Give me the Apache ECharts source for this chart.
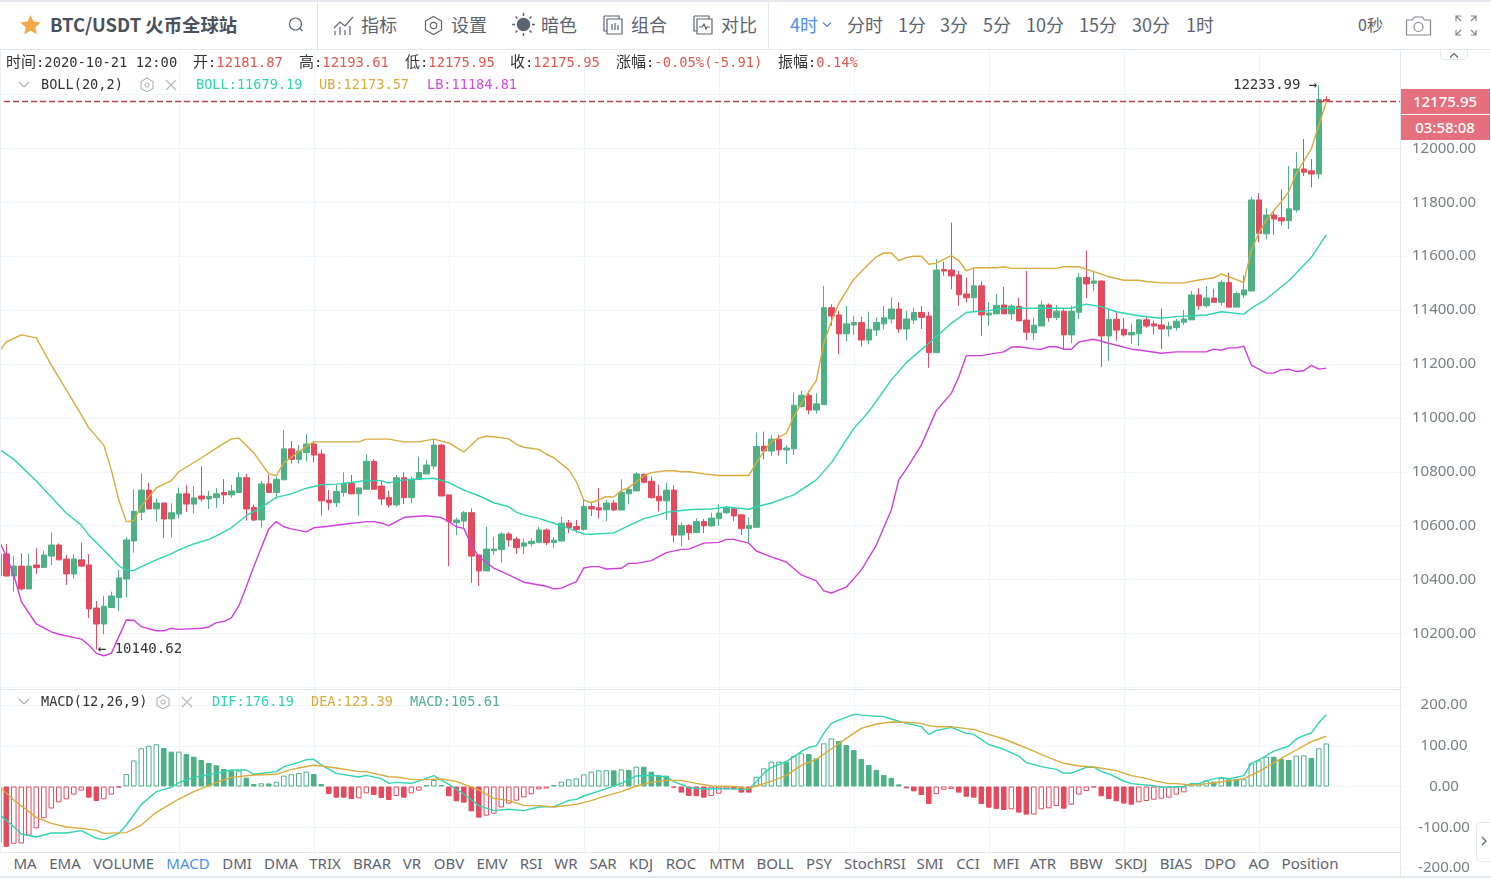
<!DOCTYPE html>
<html lang="en">
<head>
<meta charset="UTF-8">
<title>BTC/USDT</title>
<script src="https://cdn.jsdelivr.net/npm/echarts@6/dist/echarts.min.js"></script>
<style>
    html, body { margin: 0; padding: 0; background: #fff; overflow: hidden; }
    #wrap { position: relative; width: 1491px; height: 878px; overflow: hidden; }
    #main { position: absolute; left: 0; top: 0; width: 1491px; height: 878px; }
    .t { position: absolute; white-space: nowrap; transform: translateY(-50%); line-height: 1; }
    .c { transform: translate(-50%, -50%); }
    .bar { font: 18px "Noto Sans CJK SC", sans-serif; color: #5c6370; }
    .mono { font: 13.6px "DejaVu Sans Mono", "Noto Sans CJK SC", monospace; color: #333; }
    .info { font-size: 13.8px; }
    .mono i { font: 15px "Noto Sans CJK SC", sans-serif; color: #333; }
    .red { color: #e2584e; }
    .tab { font: 15px "Noto Sans", sans-serif; color: #5c6370; }
    .box { position: absolute; left: 1400px; width: 90px; height: 25px; background: #e66f7d; color: #fff;
           font: 500 15px/25px "Noto Sans", sans-serif; text-align: center; }
    .line { position: absolute; background: #e4e7eb; }
    svg { position: absolute; fill: none; stroke: #5c6370; stroke-width: 1.2; }
</style>
</head>
<body>
<div id="wrap">
<div id="main"></div>

<!-- header -->
<div style="position:absolute;left:0;top:0;width:1491px;height:50px;background:#fff"></div>
<div class="line" style="left:0;top:0;width:1491px;height:2px"></div>
<div class="line" style="left:0;top:49px;width:1491px;height:1px"></div>
<div class="line" style="left:317px;top:0;width:1px;height:49px"></div>
<div class="line" style="left:768px;top:0;width:1px;height:49px"></div>
<svg style="left:20px;top:15px;fill:#f2a94a;stroke:none" width="21" height="20" viewBox="0 0 21 20"><path d="M10.5 0l3 6.6 7.2.8-5.4 4.8 1.5 7.1-6.3-3.6-6.3 3.6 1.5-7.1L.3 7.4l7.2-.8z"/></svg>
<div class="t bar" style="left:50px;top:24px;font-weight:700;font-size:18.4px;color:#4a505c">BTC/USDT 火币全球站</div>
<svg style="left:287px;top:16px" width="18" height="18"><circle cx="8.5" cy="8" r="6"/><path d="M13 12.5l2.5 2.5"/></svg>
<svg style="left:333px;top:15px" width="22" height="21"><path d="M1 13l6-6 5 4 8-9M2 20v-4M7 20v-8M12 20v-5M17 20v-9"/></svg>
<div class="t bar" style="left:361px;top:24px">指标</div>
<svg style="left:423px;top:15px" width="21" height="21"><path d="M10.5 1.5l8 4.5v9l-8 4.5-8-4.5v-9z"/><circle cx="10.5" cy="10.5" r="3.2"/></svg>
<div class="t bar" style="left:451px;top:24px">设置</div>
<svg style="left:511px;top:12px;stroke-width:1.5" width="25" height="25"><circle cx="12.5" cy="12.5" r="6" fill="#5c6370"/><path d="M12.5 1v3M12.5 21v3M1 12.5h3M21 12.5h3M4.5 4.5l2 2M18.5 18.5l2 2M4.5 20.5l2-2M18.5 6.5l2-2"/></svg>
<div class="t bar" style="left:541px;top:24px">暗色</div>
<svg style="left:603px;top:15px" width="20" height="20"><path d="M1 1h15v3M4 4h15v15H4zM1 1v15h3M9 9v6M12 8v7M15 10v5"/></svg>
<div class="t bar" style="left:631px;top:24px">组合</div>
<svg style="left:693px;top:15px" width="20" height="20"><path d="M1 1h15v3M4 4h15v15H4zM1 1v15h3M6 12h3l2-3 2 5 1-2h3"/></svg>
<div class="t bar" style="left:721px;top:24px">对比</div>
<div class="t bar" style="left:790px;top:24px;color:#4d8ef0">4时</div>
<svg style="left:822px;top:21px;stroke:#4d8ef0" width="10" height="8"><path d="M1 1.5l4 4 4-4"/></svg>
<div class="t bar" style="left:847px;top:24px">分时</div>
<div class="t bar" style="left:898px;top:24px">1分</div>
<div class="t bar" style="left:940px;top:24px">3分</div>
<div class="t bar" style="left:983px;top:24px">5分</div>
<div class="t bar" style="left:1026px;top:24px">10分</div>
<div class="t bar" style="left:1079px;top:24px">15分</div>
<div class="t bar" style="left:1132px;top:24px">30分</div>
<div class="t bar" style="left:1186px;top:24px">1时</div>
<div class="t bar" style="left:1358px;top:24px;font-size:16px">0秒</div>
<svg style="left:1405px;top:15px;stroke:#80858f" width="27" height="21"><path d="M1.5 5h6l2-3h8l2 3h6v15h-24z"/><circle cx="13.5" cy="12" r="4.5"/></svg>
<svg style="left:1455px;top:15px;stroke:#80858f" width="22" height="21"><path d="M1 6V1h5M1 1l5 5M21 6V1h-5M21 1l-5 5M1 15v5h5M1 20l5-5M21 15v5h-5M21 20l-5-5"/></svg>

<!-- info row -->
<div class="t mono info" style="left:6px;top:60px"><i>时间</i>:2020-10-21 12:00</div>
<div class="t mono info" style="left:193px;top:60px"><i>开</i>:<span class="red">12181.87</span></div>
<div class="t mono info" style="left:299px;top:60px"><i>高</i>:<span class="red">12193.61</span></div>
<div class="t mono info" style="left:405px;top:60px"><i>低</i>:<span class="red">12175.95</span></div>
<div class="t mono info" style="left:510px;top:60px"><i>收</i>:<span class="red">12175.95</span></div>
<div class="t mono info" style="left:616px;top:60px"><i>涨幅</i>:<span class="red">-0.05%(-5.91)</span></div>
<div class="t mono info" style="left:778px;top:60px"><i>振幅</i>:<span class="red">0.14%</span></div>

<!-- indicator titles -->
<svg style="left:18px;top:81px;stroke:#a9afb9" width="12" height="8"><path d="M1 1l5 5 5-5"/></svg>
<div class="t mono" style="left:41px;top:84px">BOLL(20,2)</div>
<svg style="left:140px;top:77px;stroke:#b3b8c1" width="14" height="15"><path d="M7 1l6 3.500v7l-6 3.500-6-3.500v-7z"/><circle cx="7" cy="8" r="2"/></svg>
<svg style="left:165px;top:79px;stroke:#b3b8c1" width="12" height="12"><path d="M1 1l10 10M11 1L1 11"/></svg>
<div class="t mono" style="left:196px;top:84px;color:#2dd4b0">BOLL:11679.19</div>
<div class="t mono" style="left:319px;top:84px;color:#d9ab3c">UB:12173.57</div>
<div class="t mono" style="left:427px;top:84px;color:#d64ae0">LB:11184.81</div>

<svg style="left:18px;top:698px;stroke:#a9afb9" width="12" height="8"><path d="M1 1l5 5 5-5"/></svg>
<div class="t mono" style="left:41px;top:701px">MACD(12,26,9)</div>
<svg style="left:156px;top:694px;stroke:#b3b8c1" width="14" height="15"><path d="M7 1l6 3.500v7l-6 3.500-6-3.500v-7z"/><circle cx="7" cy="8" r="2"/></svg>
<svg style="left:181px;top:696px;stroke:#b3b8c1" width="12" height="12"><path d="M1 1l10 10M11 1L1 11"/></svg>
<div class="t mono" style="left:212px;top:701px;color:#2dd4b0">DIF:176.19</div>
<div class="t mono" style="left:311px;top:701px;color:#d9ab3c">DEA:123.39</div>
<div class="t mono" style="left:410px;top:701px;color:#4eb185">MACD:105.61</div>

<!-- price tags, pane borders -->
<div class="box" style="top:89px">12175.95</div>
<div class="box" style="top:115px">03:58:08</div>
<div class="line" style="left:0;top:689px;width:1400px;height:1px"></div>
<div class="line" style="left:1400px;top:50px;width:1px;height:828px"></div>
<div class="line" style="left:0;top:50px;width:1px;height:802px;background:#eef1f4"></div>
<div style="position:absolute;left:1440px;top:50px;width:28px;height:10px;background:#fff;border:1px solid #e4e7eb;border-top:none;box-sizing:border-box;border-radius:0 0 5px 5px"></div>
<svg style="left:1449px;top:52px;stroke:#5c6370" width="10" height="7"><path d="M1 5.500l4-4 4 4"/></svg>
<div style="position:absolute;left:1476px;top:822px;width:15px;height:40px;background:#fff;border:1px solid #e4e7eb;border-right:none;box-sizing:border-box;border-radius:5px 0 0 5px"></div>
<svg style="left:1481px;top:836px;stroke:#5c6370" width="7" height="10"><path d="M1 1l4 4-4 4"/></svg>

<!-- indicator tabs -->
<div style="position:absolute;left:0;top:852px;width:1400px;height:26px;background:#fff"></div>
<div class="line" style="left:0;top:852px;width:1400px;height:1px"></div>
<div class="line" style="left:0;top:876px;width:1491px;height:2px"></div>
<div id="tabs"></div>
</div>

<script type="text/javascript">
// candles, oldest first (4 hour bars)
var opens = [10413,10495,10413,10450,10365,10454,10445,10487,10528,10476,
    10421,10473,10454,10294,10235,10296,10333,10402,10543,10650,
    10732,10662,10684,10625,10643,10718,10680,10710,10699,10704,
    10723,10714,10723,10778,10668,10621,10755,10723,10770,10885,
    10846,10871,10903,10866,10695,10685,10723,10756,10718,10735,
    10839,10747,10704,10677,10778,10704,10771,10792,10821,10899,
    10714,10611,10617,10648,10491,10432,10507,10511,10569,10550,
    10524,10533,10538,10584,10537,10543,10610,10597,10586,10671,
    10666,10659,10684,10658,10718,10729,10791,10765,10709,10692,
    10732,10565,10601,10574,10615,10599,10626,10648,10663,10640,
    10589,10594,10895,10877,10921,10881,10885,11042,11084,11029,
    11049,11409,11382,11312,11345,11354,11289,11326,11349,11367,
    11404,11330,11363,11391,11378,11242,11551,11549,11530,11460,
    11446,11490,11382,11386,11419,11386,11414,11363,11316,11341,
    11419,11373,11396,11308,11392,11521,11500,11508,11304,11366,
    11329,11308,11312,11364,11349,11345,11330,11335,11355,11364,
    11456,11416,11445,11429,11502,11411,11456,11471,11809,11683,
    11753,11743,11732,11772,11924,11917,11905,12181.87];
var closes = [10495,10413,10450,10365,10450,10444,10491,10528,10473,10421,
    10476,10450,10291,10235,10301,10339,10406,10547,10653,10732,
    10662,10684,10625,10648,10718,10680,10703,10699,10709,10718,
    10714,10729,10778,10662,10621,10755,10723,10772,10885,10846,
    10877,10903,10862,10692,10685,10727,10757,10718,10740,10839,
    10735,10699,10677,10778,10704,10772,10797,10825,10899,10710,
    10615,10621,10648,10487,10432,10513,10513,10569,10547,10518,
    10536,10542,10584,10537,10546,10609,10593,10586,10671,10662,
    10658,10684,10658,10723,10734,10792,10761,10704,10692,10732,
    10565,10601,10574,10615,10599,10628,10647,10666,10636,10589,
    10601,10894,10877,10921,10881,10888,11047,11084,11029,11052,
    11409,11378,11312,11349,11354,11289,11329,11354,11372,11404,
    11330,11367,11391,11373,11242,11549,11545,11527,11457,11446,
    11490,11382,11389,11418,11386,11415,11360,11318,11344,11419,
    11373,11396,11308,11396,11521,11497,11508,11304,11366,11326,
    11308,11317,11364,11341,11341,11330,11340,11359,11367,11456,
    11416,11445,11429,11503,11411,11462,11475,11809,11685,11753,
    11738,11731,11776,11924,11912,11905,12181.86,12175.95];
var lows = [10411,10411,10355,10359,10365,10421,10444,10454,10473,10380,
    10404,10447,10257,10140.62,10197,10296,10283,10333,10500,10621,
    10662,10616,10555,10557,10627,10651,10646,10689,10662,10666,
    10680,10704,10720,10619,10617,10593,10723,10701,10770,10831,
    10831,10838,10834,10637,10658,10669,10708,10716,10637,10735,
    10735,10677,10667,10671,10680,10685,10771,10792,10809,10710,
    10450,10565,10590,10388,10376,10432,10491,10463,10522,10495,
    10494,10522,10538,10528,10518,10543,10572,10574,10581,10636,
    10626,10617,10654,10658,10679,10729,10757,10700,10652,10621,
    10537,10524,10547,10574,10572,10596,10599,10643,10617,10565,
    10534,10594,10846,10859,10860,10828,10862,11038,11013,11016,
    11049,11342,11236,11285,11308,11264,11273,11304,11329,11351,
    11316,11289,11349,11330,11186,11242,11528,11477,11417,11429,
    11394,11305,11342,11386,11386,11363,11360,11289,11289,11341,
    11357,11363,11255,11277,11367,11444,11471,11190,11211,11286,
    11302,11274,11267,11335,11310,11256,11302,11324,11345,11364,
    11401,11409,11429,11417,11411,11411,11446,11471,11652,11663,
    11679,11714,11701,11763,11898,11856,11887,12175.95];
var highs = [10497,10532,10487,10497,10497,10516,10507,10575,10534,10491,
    10494,10536,10494,10320,10339,10355,10435,10557,10735,10794,
    10758,10701,10685,10683,10741,10751,10747,10820,10729,10739,
    10773,10751,10798,10792,10677,10766,10788,10782,10955,10914,
    10899,10940,10912,10883,10732,10751,10798,10788,10742,10865,
    10847,10766,10729,10788,10798,10782,10856,10844,10920,10903,
    10714,10630,10654,10664,10491,10596,10559,10575,10576,10559,
    10553,10553,10596,10589,10557,10633,10621,10621,10699,10689,
    10740,10695,10695,10772,10745,10798,10794,10782,10752,10760,
    10750,10612,10605,10627,10625,10648,10679,10673,10668,10643,
    10630,10946,10949,10937,10937,10899,11095,11100,11101,11091,
    11490,11422,11397,11415,11377,11375,11394,11373,11415,11448,
    11429,11397,11409,11415,11394,11589,11580,11725,11545,11521,
    11554,11507,11429,11459,11486,11422,11446,11545,11372,11434,
    11425,11419,11403,11415,11537,11621,11543,11510,11401,11392,
    11370,11349,11366,11378,11361,11406,11357,11367,11401,11471,
    11481,11490,11479,11512,11539,11469,11530,11821,11834,11778,
    11766,11849,11935,11986,12035,11961,12233.99,12193.61];

// boll lines, [candle index, value] read at the bends of each line
var ubPoints = [[0,11245],[1,11282],[3,11308],[5,11297],[7,11196],[9,11104],[11,11011],[12,10963],[14,10899],[15,10807],
    [16,10695],[17,10615],[18,10618],[19,10673],[21,10740],[23,10767],[24,10800],[27,10851],[29,10888],[31,10922],
    [32,10925],[34,10870],[36,10792],[37,10786],[38,10833],[40,10875],[42,10911],[48,10911],[49,10921],[52,10921],
    [54,10911],[56,10911],[58,10921],[60,10907],[62,10873],[64,10925],[65,10932],[66,10930],[68,10922],[69,10902],
    [70,10891],[72,10883],[73,10865],[74,10852],[76,10807],[77,10763],[78,10695],[79,10685],[81,10708],[82,10706],
    [83,10730],[84,10741],[86,10785],[87,10797],[89,10804],[90,10804],[91,10800],[92,10800],[94,10792],[96,10786],
    [100,10786],[101,10833],[102,10875],[103,10912],[105,10943],[106,11005],[107,11054],[108,11097],[109,11138],[110,11277],
    [111,11357],[112,11425],[114,11515],[116,11571],[117,11598],[118,11612],[119,11612],[120,11584],[121,11595],[122,11600],
    [123,11600],[124,11570],[125,11574],[127,11602],[128,11584],[129,11546],[130,11557],[133,11557],[134,11561],[135,11555],
    [141,11555],[142,11561],[144,11561],[146,11543],[148,11524],[150,11511],[152,11511],[153,11506],[155,11501],[158,11501],
    [160,11512],[162,11520],[163,11534],[164,11524],[166,11502],[167,11623],[168,11685],[169,11735],[171,11803],[172,11840],
    [173,11908],[175,11998],[177,12173.57]];
var midPoints = [[0,10885],[2,10846],[5,10766],[9,10646],[11,10602],[12,10565],[14,10510],[16,10451],[17,10435],[18,10433],
    [19,10448],[21,10473],[23,10495],[24,10510],[26,10532],[28,10549],[29,10562],[31,10592],[33,10637],[35,10668],
    [37,10705],[39,10718],[41,10739],[43,10752],[45,10754],[47,10760],[49,10768],[51,10767],[52,10758],[53,10766],
    [55,10772],[58,10776],[60,10760],[62,10732],[64,10711],[66,10685],[68,10670],[69,10650],[70,10640],[72,10627],
    [74,10609],[76,10590],[78,10569],[79,10568],[82,10573],[84,10600],[86,10626],[88,10640],[89,10650],[91,10656],
    [93,10661],[95,10662],[97,10669],[100,10661],[101,10670],[103,10684],[106,10714],[109,10770],[111,10833],[114,10961],
    [116,11023],[119,11141],[121,11205],[124,11277],[127,11351],[129,11391],[130,11394],[132,11398],[134,11407],[143,11407],
    [145,11422],[147,11413],[149,11394],[152,11379],[155,11370],[157,11376],[161,11382],[163,11394],[166,11385],[167,11407],
    [169,11441],[171,11487],[172,11509],[175,11596],[177,11679.19]];
var lbPoints = [[0,10545],[1,10487],[2,10417],[3,10318],[5,10235],[7,10206],[8,10197],[11,10179],[12,10157],[13,10126],
    [14,10117],[15,10126],[16,10188],[17,10250],[18,10249],[19,10225],[21,10210],[22,10210],[23,10219],[24,10215],
    [27,10219],[28,10224],[29,10240],[30,10244],[31,10258],[32,10302],[33,10373],[34,10448],[36,10588],[37,10615],
    [38,10596],[39,10588],[41,10577],[42,10592],[44,10598],[46,10605],[49,10615],[50,10615],[51,10610],[52,10600],
    [54,10630],[55,10633],[57,10637],[59,10630],[60,10615],[61,10596],[62,10590],[63,10528],[64,10485],[66,10442],
    [68,10417],[70,10390],[73,10375],[74,10365],[75,10368],[77,10392],[78,10443],[79,10448],[80,10448],[81,10439],
    [83,10442],[84,10460],[85,10460],[87,10470],[89,10500],[91,10512],[92,10513],[94,10535],[96,10538],[97,10549],
    [98,10549],[100,10535],[101,10506],[103,10484],[105,10465],[107,10417],[109,10395],[110,10358],[111,10350],[113,10372],
    [115,10435],[117,10528],[119,10658],[120,10770],[121,10810],[123,10899],[125,11027],[127,11091],[128,11153],[129,11231],
    [131,11231],[134,11245],[135,11262],[136,11264],[138,11256],[139,11255],[140,11264],[141,11264],[142,11255],[143,11255],
    [144,11282],[146,11292],[148,11277],[151,11255],[152,11252],[155,11240],[157,11245],[161,11245],[162,11255],[163,11251],
    [164,11260],[165,11260],[166,11266],[167,11196],[169,11166],[170,11166],[171,11178],[172,11181],[173,11172],[174,11175],
    [175,11195],[176,11181],[177,11184.81]];

// macd
var macdBars = [-138,-148,-140.5,-140,-120.6,-102.7,-78,-54,-39,-31.5,
    -20,-10,-27.4,-35.6,-31.5,-20,-2,30.7,64,93.7,
    100,103.5,94.5,85.4,85.5,79.8,73,65,57.7,52,
    43,38.8,38.9,21.7,6,7.8,7.5,11.9,26.6,30,
    33,36.4,30.7,6,-18.4,-27.4,-27.5,-30.7,-29,-16.8,
    -20.9,-28.2,-33,-23.3,-27.4,-16.8,-10.2,3.7,16,3.7,
    -24,-36.4,-39.7,-61,-76.5,-71.6,-66.7,-51.5,-42,-34.7,
    -26.6,-19.2,-7,-5,3.7,11.9,17.6,20,29.9,36.4,
    39.7,39.9,39.6,42,40.5,48.7,48.6,36.4,27.4,26.6,
    -2.9,-15,-23.3,-24,-27.4,-23.3,-17.6,-7,-7.1,-15,
    -15.1,24,44.6,61,61.1,61,74.8,81.4,79.8,69,
    106,118,111.7,101.8,89.6,67.5,52.8,40.5,28.2,20.9,
    5.3,-4.5,-11.9,-20.9,-43,-19,-7.8,-6,-15,-25,
    -27.4,-43,-52,-55,-57.7,-56,-64,-69,-68.9,-56,
    -53.6,-48,-54.5,-44.6,-20,-11,-2,-24,-30.7,-36.4,
    -42,-44.6,-39,-35.6,-32.3,-29.9,-27.4,-20,-14.3,7,
    7.5,14.3,12,21.7,17.7,17.6,17.8,56.9,64,73.1,
    73,67.5,65,75.7,76.5,70,93.7,105.61];
var difPoints = [[0,-67.5],[2,-98.6],[3,-116.6],[5,-124],[7,-114],[9,-114],[11,-108.4],[13,-127],[14,-130.5],[16,-115],
    [17,-94.5],[19,-43.8],[21,-12.7],[23,-2],[24,9.4],[26,22.5],[29,32.3],[31,40.5],[33,40.5],[34,29.9],
    [37,36.4],[38,48.7],[40,59.3],[41,65.8],[42,66.7],[43,52.8],[45,32.3],[48,23.3],[49,27.4],[51,19.2],
    [52,7.8],[53,10.2],[55,7.8],[57,20],[58,26.6],[60,5.3],[62,-18.4],[64,-47],[66,-59.3],[68,-56],
    [70,-59.3],[72,-50.3],[74,-49.5],[76,-34],[77,-31.5],[78,-23.3],[81,-5.3],[83,7.8],[85,25.8],[87,27.4],
    [89,24],[90,11.9],[92,-2.9],[94,-6],[97,-5.3],[100,-7],[101,11.9],[102,32.3],[103,47],[105,61],
    [107,85.5],[108,96],[109,100],[110,130.5],[111,155],[112,163],[114,177],[116,173.8],[118,171.4],[119,165.6],
    [121,155],[123,146.8],[124,128],[125,137],[127,145],[129,130.5],[130,128],[132,103],[134,91],[136,74.8],
    [137,58.5],[139,48.7],[141,42],[142,32.3],[143,33],[145,47],[146,47.9],[147,36.4],[148,30.7],[150,13.5],
    [151,7],[154,2],[155,-2],[158,0],[159,7],[160,7],[161,14.3],[163,22.5],[164,18.4],[166,26.6],
    [167,56.9],[168,65],[170,87],[172,99.4],[173,116.6],[174,124.7],[175,131.3],[176,156.6],[177,176.19]];
var deaPoints = [[0,1.2],[2,-33],[5,-75.7],[7,-90.4],[9,-99.4],[11,-102.7],[13,-107.6],[14,-115],[17,-113.3],[19,-94.5],
    [21,-63.4],[24,-30.7],[26,-12.7],[29,9.4],[31,22.5],[34,28.2],[37,29.9],[39,42],[42,52],[43,50.3],
    [45,45.4],[48,36.4],[49,36.4],[52,24],[53,23.3],[55,17.6],[57,16.8],[59,18.4],[61,12.7],[64,-8.6],
    [66,-29],[68,-34.8],[70,-46.2],[72,-47],[74,-50.3],[77,-43.8],[79,-34.8],[81,-22.5],[83,-12.7],[85,1.2],
    [87,10.2],[89,15],[91,15],[93,7.8],[95,1.2],[98,0],[100,-4.5],[101,1.2],[103,12.7],[105,27.4],
    [107,52],[109,66.7],[111,92],[113,118],[115,142.7],[117,153.4],[119,158.3],[121,157.5],[123,155],[124,149.3],
    [125,146.8],[127,146.8],[129,142],[130,140],[132,128],[134,116.6],[136,101.8],[138,87],[140,70.8],[142,56.9],
    [144,50.3],[146,47.9],[149,38.9],[151,26.6],[153,20],[154,14.3],[156,7],[157,7],[159,3.7],[160,4.5],
    [163,11],[166,19.2],[168,36.4],[171,69],[173,89.6],[175,110],[177,123.39]];

var lastPrice = 12175.95;
var tabNames = ['MA','EMA','VOLUME','MACD','DMI','DMA','TRIX','BRAR','VR','OBV','EMV','RSI','WR','SAR','KDJ','ROC','MTM','BOLL','PSY','StochRSI','SMI','CCI','MFI','ATR','BBW','SKDJ','BIAS','DPO','AO','Position'];
var tabCenters = [25,65,123.5,188,237,281,325,372,412,449,492,531,566,603,641,681,727,775,819,875,930,968,1006,1043,1086,1131,1176,1220,1259,1310];

var UP = '#4eb185', DOWN = '#e44a5d';
var BOLL_MID = '#2dd4b0', BOLL_UP = '#d9ab3c', BOLL_LOW = '#d03fdd';
var GRID = '#f2f5f8', AXIS_TEXT = '#7a7e85';

var tabsHtml = '';
for (var t = 0; t < tabNames.length; t++) {
    tabsHtml += '<div class="t c tab" style="left:' + tabCenters[t] + 'px;top:863px;' + (tabNames[t] === 'MACD' ? 'color:#4d8ef0' : '') + '">' + tabNames[t] + '</div>';
}
document.getElementById('tabs').innerHTML = tabsHtml;

// 188 slots, the last ten are empty room before the price axis
var slots = [];
for (var i = 0; i < 188; i++) { slots.push(String(i)); }

var candles = opens.map(function (o, n) { return [o, closes[n], lows[n], highs[n]]; });
var highest = highs.indexOf(Math.max.apply(null, highs));
var lowest = lows.indexOf(Math.min.apply(null, lows));

var bars = macdBars.map(function (v, n) {
    var c = v >= 0 ? UP : DOWN;
    var hollow = n > 0 && v > macdBars[n - 1];
    return { value: v, itemStyle: { color: hollow ? '#fff' : c, borderColor: c, borderWidth: 1 } };
});

function lineSeries(name, points, color, axis) {
    return {
        name: name, type: 'line', data: points, xAxisIndex: axis, yAxisIndex: axis,
        showSymbol: false, connectNulls: true, silent: true, z: 5,
        lineStyle: { color: color, width: 1.4 }
    };
}

function priceLabel(v) { return v.toFixed(2); }

var myChart = echarts.init(document.getElementById('main'));

// v6 squeezes grids into the canvas unless outerBoundsMode is off, the first candle has to hang over the left edge
var side = { left: -4.95, width: 1410, outerBoundsMode: 'none' };
var option = {
    animation: false,
    backgroundColor: '#fff',
    grid: [
        { left: side.left, width: side.width, outerBoundsMode: side.outerBoundsMode, top: 40.7, height: 646.6 },
        { left: side.left, width: side.width, outerBoundsMode: side.outerBoundsMode, top: 705, height: 163 },
        { left: side.left, width: side.width, outerBoundsMode: side.outerBoundsMode, top: 50, height: 802 }
    ],
    xAxis: [
        { type: 'category', gridIndex: 0, data: slots, axisLine: { show: false }, axisTick: { show: false }, axisLabel: { show: false } },
        { type: 'category', gridIndex: 1, data: slots, axisLine: { show: false }, axisTick: { show: false }, axisLabel: { show: false } },
        {
            type: 'category', gridIndex: 2, data: slots, axisLine: { show: false }, axisTick: { show: false }, axisLabel: { show: false },
            splitLine: {
                show: true, alignWithLabel: true,
                interval: function (index) { return index >= 24 && index <= 168 && (index - 24) % 18 === 0; },
                lineStyle: { color: GRID, width: 1 }
            }
        }
    ],
    yAxis: [
        {
            type: 'value', gridIndex: 0, position: 'right', min: 10000, max: 12400, interval: 200,
            axisLine: { show: false }, axisTick: { show: false },
            splitLine: { lineStyle: { color: GRID, width: 1 } },
            axisLabel: { showMinLabel: false, showMaxLabel: false, align: 'center', margin: 39, padding: [2, 0, 0, 0], color: AXIS_TEXT, fontFamily: 'Noto Sans', fontSize: 15, formatter: priceLabel }
        },
        {
            type: 'value', gridIndex: 1, position: 'right', min: -200, max: 200, interval: 100,
            axisLine: { show: false }, axisTick: { show: false },
            splitLine: { lineStyle: { color: GRID, width: 1 } },
            axisLabel: { align: 'center', margin: 39, padding: [2, 0, 0, 0], color: AXIS_TEXT, fontFamily: 'Noto Sans', fontSize: 15, formatter: priceLabel }
        },
        { type: 'value', gridIndex: 2, show: false, splitLine: { show: false } }
    ],
    series: [
        {
            name: 'kline', type: 'candlestick', data: candles, xAxisIndex: 0, yAxisIndex: 0, barWidth: 6, z: 3,
            itemStyle: { color: UP, color0: DOWN, borderColor: UP, borderColor0: DOWN, borderWidth: 1 },
            markLine: {
                silent: true, symbol: 'none', animation: false,
                label: { show: false },
                lineStyle: { color: '#b8404e', type: [6, 3], width: 1.3 },
                data: [{ yAxis: lastPrice }]
            },
            markPoint: {
                silent: true, animation: false, symbol: 'circle', symbolSize: 1,
                itemStyle: { color: 'transparent' },
                label: { fontFamily: 'DejaVu Sans Mono', fontSize: 14, color: '#333' },
                data: [
                    { coord: [highest, highs[highest]], label: { position: 'left', distance: 1, formatter: highs[highest].toFixed(2) + ' →' } },
                    { coord: [lowest, lows[lowest]], label: { position: 'right', distance: 1, formatter: '← ' + lows[lowest].toFixed(2) } }
                ]
            }
        },
        lineSeries('BOLL', midPoints, BOLL_MID, 0),
        lineSeries('UB', ubPoints, BOLL_UP, 0),
        lineSeries('LB', lbPoints, BOLL_LOW, 0),
        { name: 'MACD', type: 'bar', data: bars, xAxisIndex: 1, yAxisIndex: 1, barWidth: 5.5, silent: true, z: 3 },
        lineSeries('DIF', difPoints, BOLL_MID, 1),
        lineSeries('DEA', deaPoints, BOLL_UP, 1)
    ]
};

myChart.setOption(option);
</script>
</body>
</html>
